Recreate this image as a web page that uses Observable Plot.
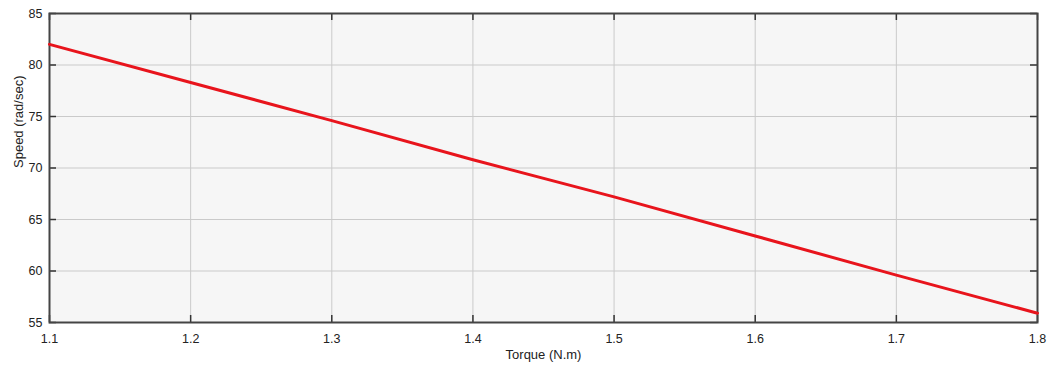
<!DOCTYPE html>
<html>
<head>
<meta charset="utf-8">
<script src="https://cdn.jsdelivr.net/npm/d3@7"></script>
<script src="https://cdn.jsdelivr.net/npm/@observablehq/plot@0.6"></script>
<style>
  html, body { margin: 0; padding: 0; background: #fff; }
  #chart svg { display: block; }
</style>
</head>
<body>
<div id="chart"></div>
<script>
const torque = [1.1, 1.2, 1.3, 1.4, 1.5, 1.6, 1.7, 1.8];
const speed  = [82.0, 78.3, 74.6, 70.8, 67.2, 63.4, 59.6, 55.9];
const xTicks = [1.1, 1.2, 1.3, 1.4, 1.5, 1.6, 1.7, 1.8];
const yTicks = [55, 60, 65, 70, 75, 80, 85];

const data = torque.map((t, i) => ({torque: t, speed: speed[i]}));
const font = "'Liberation Sans Narrow', 'Liberation Sans', Arial, sans-serif";

const W = 1047, H = 371, mL = 49, mR = 10, mT = 13, mB = 49;
const plotW = W - mL - mR, plotH = H - mT - mB, tk = 7;

const chart = Plot.plot({
  width: W,
  height: H,
  marginLeft: mL,
  marginRight: mR,
  marginTop: mT,
  marginBottom: mB,
  style: {fontFamily: font, fontSize: "12.5px", color: "#222", background: "#fff"},
  x: {domain: [1.1, 1.8], ticks: xTicks, tickFormat: d => d.toFixed(1), label: null},
  y: {domain: [55, 85], ticks: yTicks, label: null},
  marks: [
    Plot.frame({fill: "#f6f6f6", stroke: null}),
    Plot.gridX(xTicks, {stroke: "#cacaca", strokeOpacity: 1, strokeWidth: 1}),
    Plot.gridY(yTicks, {stroke: "#cacaca", strokeOpacity: 1, strokeWidth: 1}),
    Plot.tickX(xTicks, {x: d => d, insetTop: plotH - tk, stroke: "#333", strokeWidth: 1.5}),
    Plot.tickX(xTicks, {x: d => d, insetBottom: plotH - tk, stroke: "#333", strokeWidth: 1.5}),
    Plot.tickY(yTicks, {y: d => d, insetRight: plotW - tk, stroke: "#333", strokeWidth: 1.5}),
    Plot.tickY(yTicks, {y: d => d, insetLeft: plotW - tk, stroke: "#333", strokeWidth: 1.5}),
    Plot.axisX(xTicks, {anchor: "bottom", tickSize: 0, tickPadding: 12, tickFormat: d => d.toFixed(1), fill: "#222", label: null}),
    Plot.axisY(yTicks, {anchor: "left", tickSize: 0, tickPadding: 7, fill: "#222", label: null}),
    Plot.frame({stroke: "#444", strokeWidth: 2}),
    Plot.line(data, {x: "torque", y: "speed", stroke: "#e8141c", strokeWidth: 3}),
    Plot.text(["Torque (N.m)"], {frameAnchor: "bottom", dy: 36, fill: "#222", fontSize: 13}),
    Plot.text(["Speed (rad/sec)"], {frameAnchor: "left", dx: -31, rotate: -90, fill: "#222", fontSize: 13})
  ]
});
document.getElementById("chart").appendChild(chart);
</script>
</body>
</html>
